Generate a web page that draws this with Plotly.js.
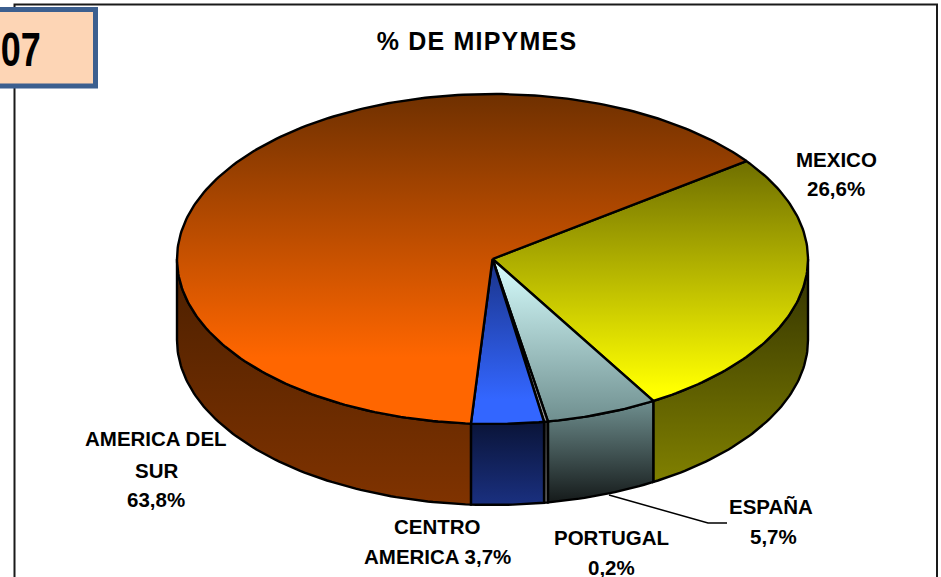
<!DOCTYPE html>
<html><head><meta charset="utf-8">
<script src="https://cdn.plot.ly/plotly-3.0.1.min.js"></script>
<style>html,body{margin:0;padding:0;background:#fff;overflow:hidden}
.gtitle{letter-spacing:1.2px}</style></head>
<body><div id="chart" style="width:941px;height:577px"></div>
<script>
const categories = ["MEXICO","ESPAÑA","PORTUGAL","CENTRO AMERICA","AMERICA DEL SUR"];
const shares = [26.6,5.7,0.2,3.7,63.8];
const labelLines = [
  ["MEXICO",836,159],["26,6%",836,188],
  ["ESPAÑA",771,506],["5,7%",773,536],
  ["PORTUGAL",611,537],["0,2%",611,567],
  ["CENTRO",437,526],["AMERICA 3,7%",437,556],
  ["AMERICA DEL",156,438],["SUR",156,470],["63,8%",156,499]
];
const topColors = [[[0,"#6f6f00"],[0.95,"#ffff00"],[1,"#ffff00"]],
                   [[0,"#d8ffff"],[1,"#6f8f8f"]],
                   [[0,"#f0f0f0"],[1,"#999999"]],
                   [[0,"#1a3388"],[0.85,"#3366ff"],[1,"#3366ff"]],
                   [[0,"#6f3000"],[0.8,"#ff6600"],[1,"#ff6600"]]];
const wallColors = [[[0,"#303000"],[1,"#808000"]],
                    [[0,"#6f8f8f"],[1,"#151a1a"]],
                    [[0,"#333333"],[1,"#777777"]],
                    [[0,"#0a1438"],[1,"#1a3080"]],
                    [[0,"#4a1f00"],[1,"#803300"]]];

const cx=492.5, cy=259, rx=315.5, ry=165, depth=81, startDeg=53.6;
const pt=(deg,dy=0)=>{const a=deg*Math.PI/180;return [cx+rx*Math.sin(a), cy-ry*Math.cos(a)+dy];};
const range=(a,b)=>{const o=[];const n=Math.max(2,Math.ceil(Math.abs(b-a)));for(let i=0;i<=n;i++)o.push(a+(b-a)*i/n);return o;};
const total=shares.reduce((s,v)=>s+v,0);
const spans=[];let acc=startDeg;
shares.forEach(v=>{const e=acc+v/total*360;spans.push([acc,e]);acc=e;});

function poly(pts,scale,y0,y1,name){
  return {type:"scatter",mode:"lines",name,x:pts.map(p=>p[0]),y:pts.map(p=>p[1]),fill:"toself",
    line:{color:"#000",width:2.4},hoverinfo:"name",showlegend:false,
    fillgradient:{type:"vertical",start:y0,stop:y1,colorscale:scale}};
}
const traces=[];
spans.forEach(([a,b],i)=>{
  const lo=Math.max(a,90), hi=Math.min(b,270);
  if(hi<=lo) return;
  const arc=range(lo,hi);
  const pts=[...arc.map(d=>pt(d)),...arc.slice().reverse().map(d=>pt(d,depth)),pt(lo)];
  const ys=pts.map(p=>p[1]);
  traces.push(poly(pts,wallColors[i],Math.min(...ys),Math.max(...ys),categories[i]));
});
spans.forEach(([a,b],i)=>{
  const pts=[[cx,cy],...range(a,b).map(d=>pt(d)),[cx,cy]];
  const ys=pts.map(p=>p[1]);
  traces.push(poly(pts,topColors[i],Math.min(...ys),Math.max(...ys),categories[i]));
});

const font={family:"Liberation Sans, Arial, sans-serif",size:20.5,color:"#000"};
const annotations=labelLines.map(([t,x,y])=>({text:"<b>"+t+"</b>",x,y,xref:"x",yref:"y",showarrow:false,xanchor:"center",yanchor:"middle",font}));
annotations.push({text:"<b>07</b>",x:20,y:49,xref:"x",yref:"y",showarrow:false,xanchor:"center",yanchor:"middle",
  font:{family:"Liberation Sans, sans-serif",size:48,color:"#000"}});

const layout={width:941,height:577,margin:{l:0,r:0,t:0,b:0},paper_bgcolor:"#fff",plot_bgcolor:"#fff",
  title:{text:"<b>% DE MIPYMES</b>",x:477/941,xanchor:"center",y:1-41/577,yanchor:"middle",font:{family:"Liberation Sans, Arial, sans-serif",size:25,color:"#000"}},
  xaxis:{range:[0,941],visible:false,fixedrange:true},
  yaxis:{range:[577,0],visible:false,fixedrange:true},
  showlegend:false,annotations,
  shapes:[
    {type:"rect",xref:"x",yref:"y",x0:14.5,x1:937,y0:4.5,y1:600,line:{color:"#1a1a1a",width:2},fillcolor:"rgba(0,0,0,0)",layer:"below"},
    {type:"path",xref:"x",yref:"y",path:"M609,495 L708,523 L727,523",line:{color:"#000",width:1.5}},
    {type:"rect",xref:"x",yref:"y",x0:-6,x1:95.5,y0:9.5,y1:86,line:{color:"#3c5f8f",width:5},fillcolor:"#fdd5b5"}
  ]};
Plotly.newPlot("chart",traces,layout,{displayModeBar:false,staticPlot:true}).then(()=>{
  const texts=[...document.querySelectorAll(".annotation-text")];
  const t=texts.find(e=>e.textContent==="07");
  if(t){t.setAttribute("textLength","40");t.setAttribute("lengthAdjust","spacingAndGlyphs");}
});
</script></body></html>
